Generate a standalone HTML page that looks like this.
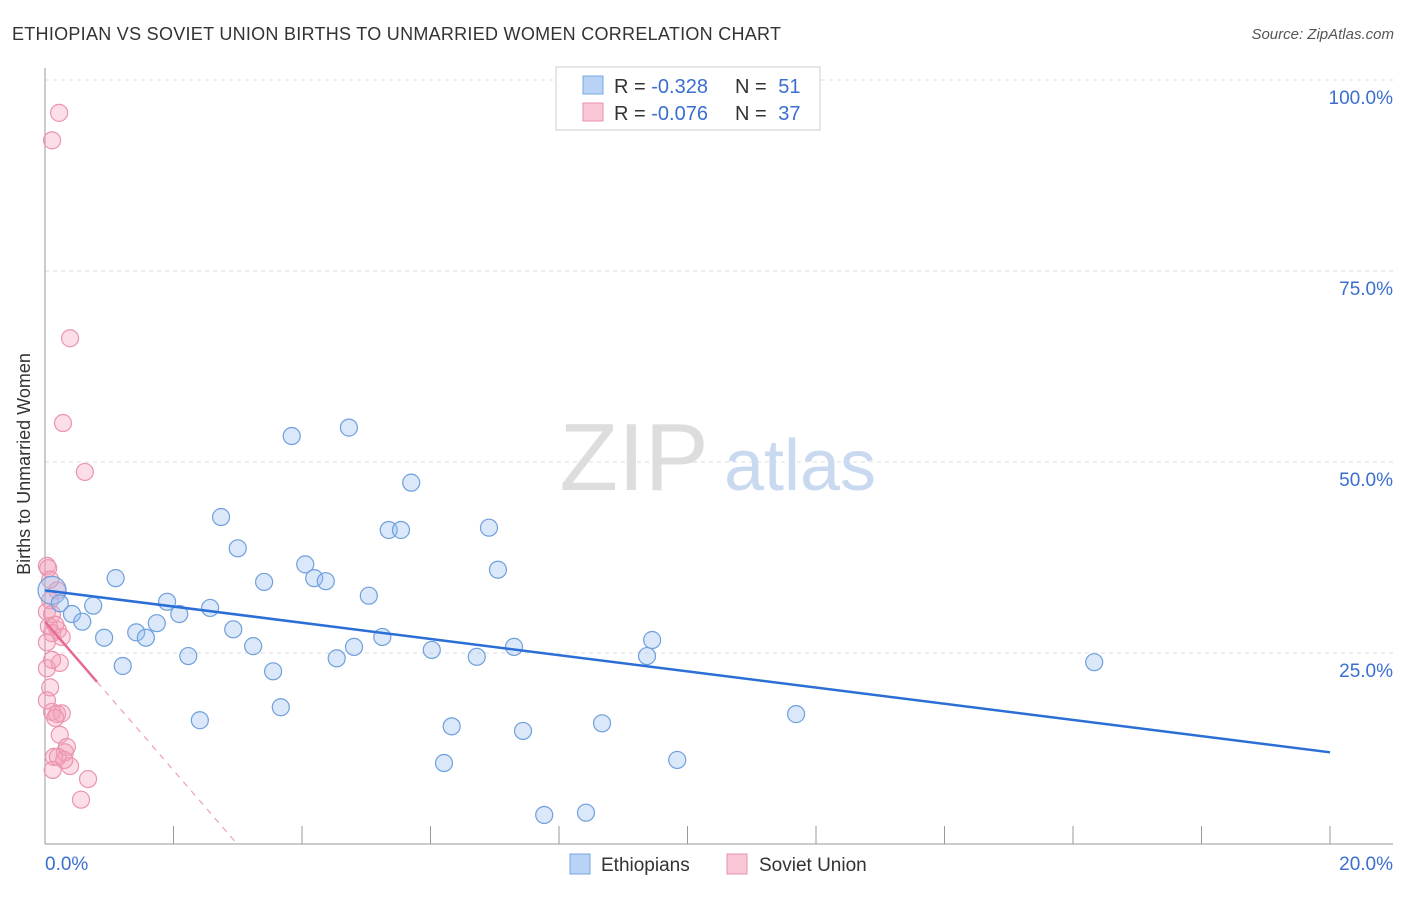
<!DOCTYPE html>
<html><head><meta charset="utf-8"><style>
body{margin:0;background:#fff;font-family:"Liberation Sans",sans-serif;}
svg text{font-family:"Liberation Sans",sans-serif;}
</style></head><body>
<svg width="1406" height="892" xmlns="http://www.w3.org/2000/svg">
<text x="12" y="40" font-size="18" fill="#333" textLength="769">ETHIOPIAN VS SOVIET UNION BIRTHS TO UNMARRIED WOMEN CORRELATION CHART</text>
<text x="1394" y="39" font-size="15" fill="#555" font-style="italic" text-anchor="end">Source: ZipAtlas.com</text>
<g id="grid"></g>
<g><text x="634" y="490" font-size="96" font-family="Liberation Serif" fill="#ddd" text-anchor="middle">ZIP</text><text x="800" y="490" font-size="72" fill="#c9d9f0" text-anchor="middle">atlas</text></g>
<g id="axes"></g>
<g id="pts"></g>
<g id="trend"></g>
<text x="22" y="456" font-size="18" fill="#333" text-anchor="middle" transform="rotate(-90 30 456)">Births to Unmarried Women</text>
<g>
<rect x="556" y="67" width="264" height="63" fill="#fff" stroke="#ccc"/>
<rect x="583" y="76" width="20" height="18" fill="#b8d3f5" stroke="#7aa7e0"/>
<text x="614" y="93" font-size="20" fill="#333">R = <tspan fill="#3a6fd0">-0.328</tspan></text>
<text x="735" y="93" font-size="20" fill="#333">N = <tspan fill="#3a6fd0" dx="6">51</tspan></text>
<rect x="583" y="103" width="20" height="18" fill="#f8c6d5" stroke="#e890aa"/>
<text x="614" y="120" font-size="20" fill="#333">R = <tspan fill="#3a6fd0">-0.076</tspan></text>
<text x="735" y="120" font-size="20" fill="#333">N = <tspan fill="#3a6fd0" dx="6">37</tspan></text>
</g>
<g>
<rect x="570" y="854" width="20" height="20" fill="#b8d3f5" stroke="#7aa7e0"/>
<text x="601" y="871" font-size="19" fill="#333">Ethiopians</text>
<rect x="727" y="854" width="20" height="20" fill="#f8c6d5" stroke="#e890aa"/>
<text x="759" y="871" font-size="19" fill="#333">Soviet Union</text>
</g>
</svg>
<script>
const blueX=[0.11,0.23,0.42,0.58,0.75,0.92,1.10,1.21,1.42,1.57,1.74,1.90,2.09,2.23,2.41,2.57,2.74,2.93,3.00,3.24,3.41,3.55,3.67,3.84,4.05,4.19,4.37,4.54,4.73,4.81,5.04,5.25,5.35,5.54,5.70,6.02,6.21,6.33,6.72,6.91,7.05,7.30,7.44,7.77,8.42,8.67,9.37,9.45,9.84,11.69,16.33];
const blueY=[33.2,31.5,30.1,29.1,31.2,27.0,34.8,23.3,27.7,27.0,28.9,31.7,30.1,24.6,16.2,30.9,42.8,28.1,38.7,25.9,34.3,22.6,17.9,53.4,36.6,34.8,34.4,24.3,54.5,25.8,32.5,27.1,41.1,41.1,47.3,25.4,10.6,15.4,24.5,41.4,35.9,25.8,14.8,3.8,4.1,15.8,24.6,26.7,11.0,17.0,23.8];
const pinkX=[0.22,0.11,0.39,0.28,0.62,0.03,0.05,0.19,0.08,0.03,0.11,0.06,0.2,0.11,0.26,0.03,0.23,0.08,0.03,0.11,0.19,0.26,0.16,0.23,0.34,0.31,0.14,0.2,0.39,0.12,0.67,0.56,0.08,0.16,0.03,0.30,0.11];
const pinkY=[95.7,92.1,66.2,55.1,48.7,36.4,36.1,33.2,31.9,30.4,30.1,28.5,28.0,27.6,27.1,26.4,23.7,20.5,23.0,17.3,17.0,17.1,16.5,14.3,12.7,12.0,11.4,11.4,10.2,9.7,8.5,5.8,34.6,28.7,18.8,11.0,24.1];
const yTicks=[25,50,75,100];
const yTickLabels=["25.0%","50.0%","75.0%","100.0%"];
const xTickLabels=["0.0%","20.0%"];
const blueTrend=[33.2,12.0];
const pinkTrend=[29.1,-9.73];
const NS="http://www.w3.org/2000/svg";
const sx=v=>45+v*64.25, sy=v=>844-v*7.64;
function mk(t,a,p){const e=document.createElementNS(NS,t);for(const k in a)e.setAttribute(k,a[k]);document.getElementById(p).appendChild(e);return e;}
yTicks.forEach((t,i)=>{
 const l=mk('line',{x1:45,x2:1393,y1:sy(t),y2:sy(t),stroke:'#ddd','stroke-dasharray':'4,4'},'grid');
 
 
 const tx=mk('text',{x:1393,y:sy(t)+24,'font-size':19,fill:'#3a6fd0','text-anchor':'end'},'axes');
 tx.textContent=yTickLabels[i];
 
 
});
mk('line',{x1:45,x2:45,y1:68,y2:844,stroke:'#999'},'axes');
mk('line',{x1:45,x2:1393,y1:844,y2:844,stroke:'#999'},'axes');
for(let i=0;i<=10;i++){const t=mk('line',{x1:sx(i*2),x2:sx(i*2),y1:826,y2:844,stroke:'#999'},'axes');
 
 }
[[0,'start'],[20,'end']].forEach((d,i)=>{const t=mk('text',{x:i?1393:45,y:870,'font-size':19,fill:'#3a6fd0','text-anchor':d[1]},'axes');t.textContent=xTickLabels[i];
 
 });
pinkX.forEach((x,i)=>{const c=mk('circle',{cx:sx(x),cy:sy(pinkY[i]),r:8.5,fill:'rgba(244,160,185,0.35)',stroke:'#eb94ae','stroke-width':1.2},'pts');
 
 });
blueX.forEach((x,i)=>{const c=mk('circle',{cx:sx(x),cy:sy(blueY[i]),r:i==0?14:8.5,fill:'rgba(150,190,240,0.35)',stroke:'#6f9fdc','stroke-width':1.2},'pts');
 
 });
const bt=mk('line',{x1:sx(0),y1:sy(blueTrend[0]),x2:sx(20),y2:sy(blueTrend[1]),stroke:'#2a6ed6','stroke-width':2.5},'trend');


const pz=-pinkTrend[0]/pinkTrend[1];
const ps=mk('line',{x1:sx(0),y1:sy(pinkTrend[0]),x2:sx(0.81),y2:sy(pinkTrend[0]+pinkTrend[1]*0.81),stroke:'#e66a90','stroke-width':2.5},'trend');


const pd=mk('line',{x1:sx(0.81),y1:sy(pinkTrend[0]+pinkTrend[1]*0.81),x2:sx(pz),y2:sy(0),stroke:'#eba0b5','stroke-width':1.2,'stroke-dasharray':'6,6'},'trend');


</script>
</body></html>
